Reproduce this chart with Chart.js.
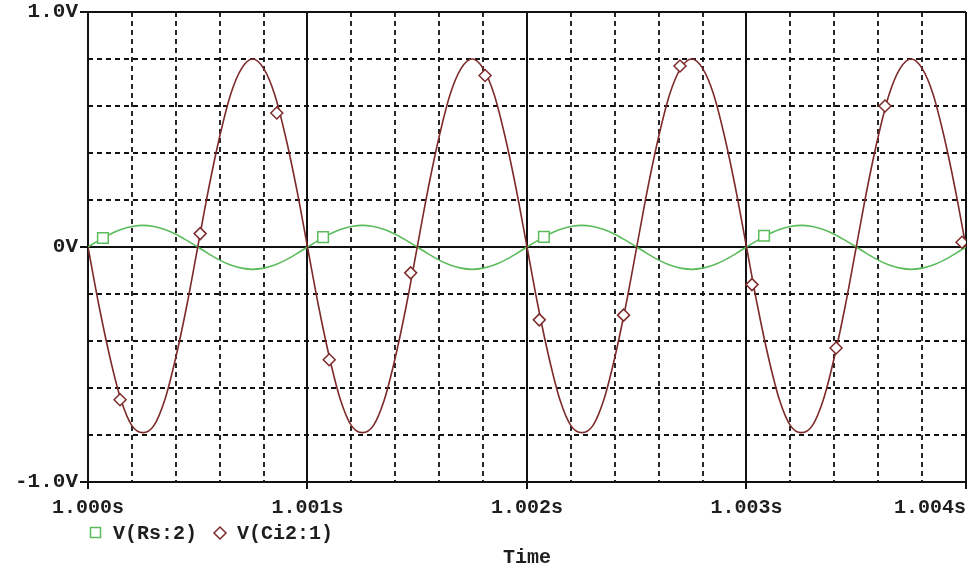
<!DOCTYPE html>
<html>
<head>
<meta charset="utf-8">
<script src="https://cdn.jsdelivr.net/npm/chart.js@4/dist/chart.umd.min.js"></script>
<style>
  html, body { margin: 0; padding: 0; background: #fff; }
  #wrap { width: 976px; height: 568px; position: relative; }
</style>
</head>
<body>
<div id="wrap"><canvas id="scope"></canvas></div>
<script>
const MONO = "'Liberation Mono', 'DejaVu Sans Mono', monospace";
const INK = '#1e1e1e';
const GREEN = '#5cbc5c';
const BROWN = '#7d2a2a';

// sample times (s), every 50 us
const TIME = [
  1.00000, 1.00005, 1.00010, 1.00015, 1.00020, 1.00025, 1.00030, 1.00035, 1.00040, 1.00045,
  1.00050, 1.00055, 1.00060, 1.00065, 1.00070, 1.00075, 1.00080, 1.00085, 1.00090, 1.00095,
  1.00100, 1.00105, 1.00110, 1.00115, 1.00120, 1.00125, 1.00130, 1.00135, 1.00140, 1.00145,
  1.00150, 1.00155, 1.00160, 1.00165, 1.00170, 1.00175, 1.00180, 1.00185, 1.00190, 1.00195,
  1.00200, 1.00205, 1.00210, 1.00215, 1.00220, 1.00225, 1.00230, 1.00235, 1.00240, 1.00245,
  1.00250, 1.00255, 1.00260, 1.00265, 1.00270, 1.00275, 1.00280, 1.00285, 1.00290, 1.00295,
  1.00300, 1.00305, 1.00310, 1.00315, 1.00320, 1.00325, 1.00330, 1.00335, 1.00340, 1.00345,
  1.00350, 1.00355, 1.00360, 1.00365, 1.00370, 1.00375, 1.00380, 1.00385, 1.00390, 1.00395,
  1.00400
];

// V(Rs:2)
const V_RS = [
  0, 0.028, 0.054, 0.074, 0.087, 0.092, 0.087, 0.074, 0.054, 0.028,
  0, -0.029, -0.056, -0.077, -0.090, -0.095, -0.090, -0.077, -0.056, -0.029,
  0, 0.028, 0.054, 0.074, 0.087, 0.092, 0.087, 0.074, 0.054, 0.028,
  0, -0.029, -0.056, -0.077, -0.090, -0.095, -0.090, -0.077, -0.056, -0.029,
  0, 0.028, 0.054, 0.074, 0.087, 0.092, 0.087, 0.074, 0.054, 0.028,
  0, -0.029, -0.056, -0.077, -0.090, -0.095, -0.090, -0.077, -0.056, -0.029,
  0, 0.028, 0.054, 0.074, 0.087, 0.092, 0.087, 0.074, 0.054, 0.028,
  0, -0.029, -0.056, -0.077, -0.090, -0.095, -0.090, -0.077, -0.056, -0.029,
  0
];

// V(Ci2:1)
const V_CI = [
  0, -0.25, -0.47, -0.65, -0.76, -0.79, -0.76, -0.65, -0.47, -0.25,
  0, 0.25, 0.47, 0.65, 0.76, 0.80, 0.76, 0.65, 0.47, 0.25,
  0, -0.25, -0.47, -0.65, -0.76, -0.79, -0.76, -0.65, -0.47, -0.25,
  0, 0.25, 0.47, 0.65, 0.76, 0.80, 0.76, 0.65, 0.47, 0.25,
  0, -0.25, -0.47, -0.65, -0.76, -0.79, -0.76, -0.65, -0.47, -0.25,
  0, 0.25, 0.47, 0.65, 0.76, 0.80, 0.76, 0.65, 0.47, 0.25,
  0, -0.25, -0.47, -0.65, -0.76, -0.79, -0.76, -0.65, -0.47, -0.25,
  0, 0.25, 0.47, 0.65, 0.76, 0.80, 0.76, 0.65, 0.47, 0.25,
  0
];

// trace markers as placed by the plotter
const RS_MARK_T = [1.000068, 1.001071, 1.002077, 1.003080];
const RS_MARK_V = [0.038, 0.042, 0.043, 0.048];
const CI_MARK_T = [1.000146, 1.000511, 1.000860, 1.001099, 1.001470, 1.001809, 1.002056,
                   1.002440, 1.002697, 1.003025, 1.003408, 1.003631, 1.003982];
const CI_MARK_V = [-0.65, 0.057, 0.57, -0.48, -0.11, 0.73, -0.31,
                   -0.29, 0.77, -0.16, -0.43, 0.60, 0.02];

const X_MAJOR = [1.000, 1.001, 1.002, 1.003, 1.004];
const X_LABELS = ['1.000s', '1.001s', '1.002s', '1.003s', '1.004s'];
const X_MINOR = [1.0002, 1.0004, 1.0006, 1.0008, 1.0012, 1.0014, 1.0016, 1.0018,
                 1.0022, 1.0024, 1.0026, 1.0028, 1.0032, 1.0034, 1.0036, 1.0038];
const Y_MAJOR = [-1, 0, 1];
const Y_LABELS = ['-1.0V', '0V', '1.0V'];
const Y_MINOR = [-0.8, -0.6, -0.4, -0.2, 0.2, 0.4, 0.6, 0.8];
const LEGEND = ['V(Rs:2)', 'V(Ci2:1)'];

const pts = (xs, ys) => xs.map((t, i) => ({ x: t, y: ys[i] }));

// dashed grid, solid major lines, frame, x labels and legend
const scopeGrid = {
  id: 'scopeGrid',
  beforeDatasetsDraw(chart) {
    const { ctx, chartArea: a, scales: { x, y } } = chart;
    ctx.save();
    ctx.strokeStyle = '#111';
    ctx.lineWidth = 1.8;
    ctx.setLineDash([5, 4]);
    ctx.beginPath();
    X_MINOR.forEach(v => {
      const px = Math.round(x.getPixelForValue(v));
      ctx.moveTo(px, a.top); ctx.lineTo(px, a.bottom);
    });
    Y_MINOR.forEach(v => {
      const py = Math.round(y.getPixelForValue(v));
      ctx.moveTo(a.left, py); ctx.lineTo(a.right, py);
    });
    ctx.stroke();
    ctx.setLineDash([]);
    ctx.lineWidth = 2;
    ctx.beginPath();
    X_MAJOR.forEach(v => {
      const px = Math.round(x.getPixelForValue(v));
      ctx.moveTo(px, a.top); ctx.lineTo(px, a.bottom + 7);
    });
    Y_MAJOR.forEach(v => {
      const py = Math.round(y.getPixelForValue(v));
      ctx.moveTo(a.left - 8, py); ctx.lineTo(a.right, py);
    });
    ctx.stroke();
    ctx.restore();
  },
  afterDraw(chart) {
    const { ctx, chartArea: a, scales: { x } } = chart;
    ctx.save();
    ctx.fillStyle = INK;
    ctx.font = 'bold 20px ' + MONO;
    ctx.textBaseline = 'alphabetic';
    X_MAJOR.forEach((v, i) => {
      ctx.textAlign = i === X_MAJOR.length - 1 ? 'right' : 'center';
      ctx.fillText(X_LABELS[i], x.getPixelForValue(v), a.bottom + 31);
    });

    // legend
    const ly = a.bottom + 51;
    ctx.textAlign = 'left';
    ctx.lineWidth = 1.5;
    ctx.strokeStyle = GREEN;
    ctx.fillStyle = '#fff';
    ctx.fillRect(a.left + 2.5, ly - 5.5, 10, 10);
    ctx.strokeRect(a.left + 2.5, ly - 5.5, 10, 10);
    ctx.fillStyle = INK;
    ctx.fillText(LEGEND[0], a.left + 25, ly + 6);
    const dx = a.left + 132;
    ctx.strokeStyle = BROWN;
    ctx.beginPath();
    ctx.moveTo(dx - 6, ly); ctx.lineTo(dx, ly - 6); ctx.lineTo(dx + 6, ly); ctx.lineTo(dx, ly + 6);
    ctx.closePath();
    ctx.stroke();
    ctx.fillText(LEGEND[1], a.left + 149, ly + 6);
    ctx.restore();
  }
};

new Chart(document.getElementById('scope'), {
  type: 'line',
  data: {
    datasets: [
      { data: pts(RS_MARK_T, RS_MARK_V), showLine: false, pointStyle: 'rect', pointRadius: 7.5,
        pointBorderWidth: 1.5, pointBorderColor: GREEN, pointBackgroundColor: '#fff', order: 0 },
      { data: pts(CI_MARK_T, CI_MARK_V), showLine: false, pointStyle: 'rectRot', pointRadius: 6,
        pointBorderWidth: 1.5, pointBorderColor: BROWN, pointBackgroundColor: '#fff', order: 0 },
      { data: pts(TIME, V_RS), borderColor: GREEN, borderWidth: 1.6, pointRadius: 0,
        cubicInterpolationMode: 'monotone', order: 2 },
      { data: pts(TIME, V_CI), borderColor: BROWN, borderWidth: 1.6, pointRadius: 0,
        cubicInterpolationMode: 'monotone', order: 1 }
    ]
  },
  options: {
    responsive: true,
    maintainAspectRatio: false,
    animation: false,
    layout: { padding: { top: 12, right: 10, bottom: 0, left: 0 } },
    plugins: { legend: { display: false }, tooltip: { enabled: false } },
    scales: {
      x: {
        type: 'linear', min: 1.000, max: 1.004,
        afterBuildTicks: s => { s.ticks = X_MAJOR.map(v => ({ value: v })); },
        ticks: { display: false },
        grid: { display: false, drawTicks: false },
        border: { display: false },
        title: { display: true, text: 'Time', color: INK,
                 font: { family: MONO, size: 20, weight: 'bold', lineHeight: 1 },
                 padding: { top: 0, bottom: 0 } },
        afterFit: s => { s.height = 86; s.paddingLeft = 0; s.paddingRight = 0; }
      },
      y: {
        type: 'linear', min: -1, max: 1,
        afterBuildTicks: s => { s.ticks = Y_MAJOR.map(v => ({ value: v })); },
        ticks: {
          callback: v => Y_LABELS[Y_MAJOR.indexOf(v)],
          color: INK, padding: 10,
          font: { family: MONO, size: 21, weight: 'bold' }
        },
        grid: { display: false, drawTicks: false },
        border: { display: false },
        afterFit: s => { s.width = 88; s.paddingTop = 0; s.paddingBottom = 0; }
      }
    }
  },
  plugins: [scopeGrid]
});
</script>
</body>
</html>
